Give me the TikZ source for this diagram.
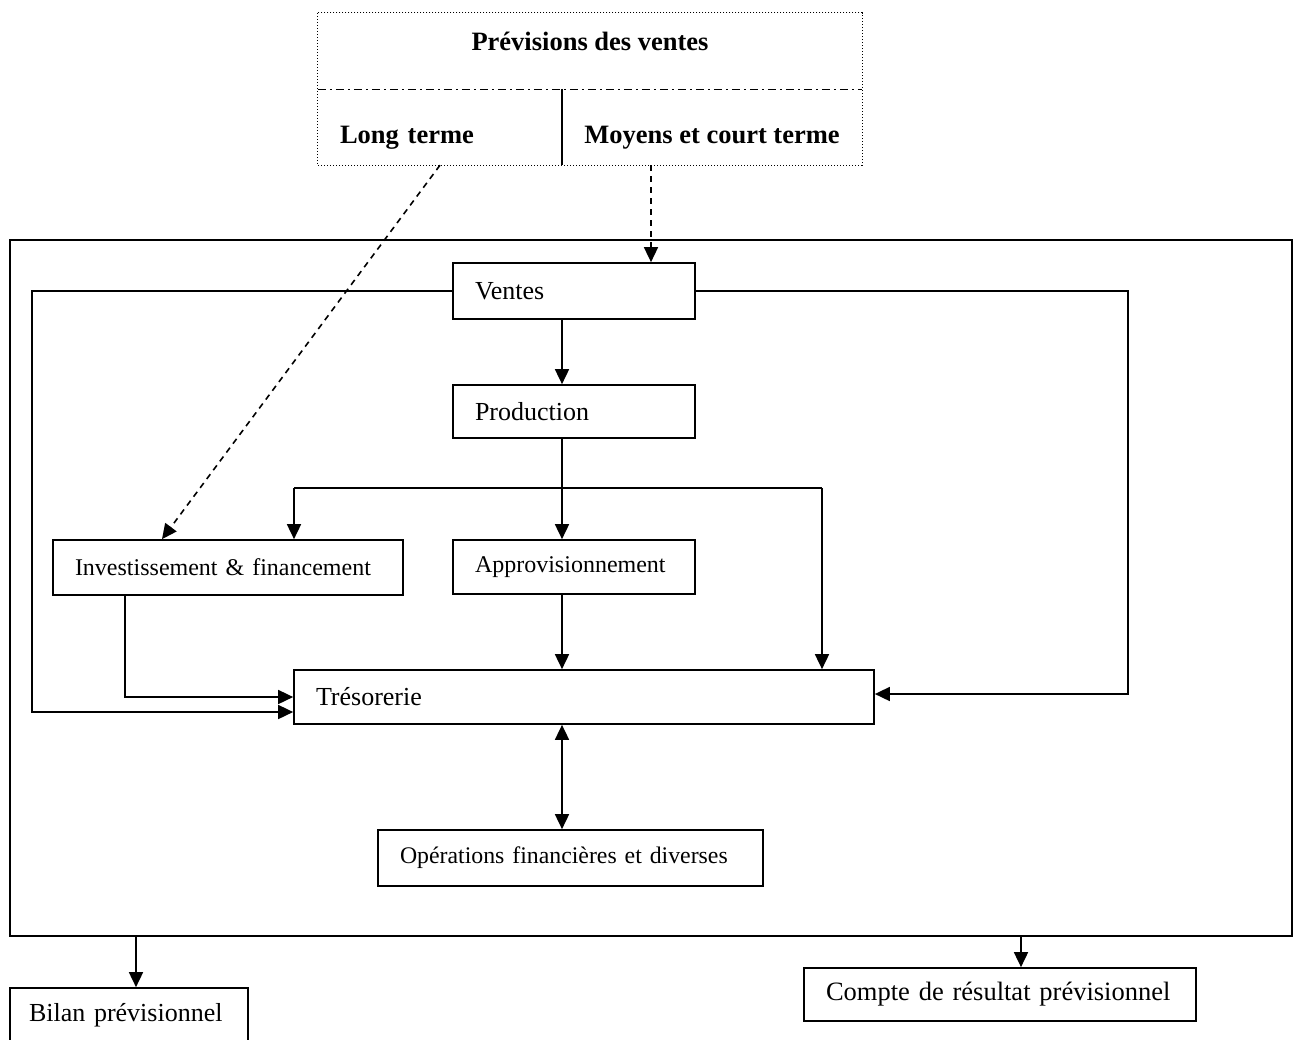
\documentclass[tikz,border=0pt]{standalone}
\usepackage{fontspec}
\setmainfont{Liberation Serif}
\usetikzlibrary{arrows.meta}
\begin{document}
\begin{tikzpicture}[x=1pt,y=-1pt,
  every node/.style={font=\fontsize{24}{28}\selectfont},
  big/.style={font=\fontsize{26}{30}\selectfont},
  stepbox/.style={draw, line width=1.7pt, inner xsep=22pt, inner ysep=0pt, align=left},
  link/.style={line width=1.7pt},
  tip/.tip={Triangle[length=15pt,width=14pt]},
  arr/.style={link, -tip},
  darr/.style={link, tip-tip},
  feedline/.style={line width=1.6pt, dash pattern=on 6pt off 5pt, -tip},
  head/.style={font=\fontsize{26.5}{30}\selectfont\bfseries, inner ysep=0pt}]
\useasboundingbox (0,0) rectangle (1297,1039);
\clip (0,0) rectangle (1297,1039);

% sales forecast header
\node[head, inner xsep=0pt, minimum width=544, text height=37, text depth=39] (prev) at (590,51) {Prévisions des ventes};
\node[head, minimum width=244, text width=200, inner xsep=22pt, align=left, text height=54, text depth=22] (long) at (440,127) {Long terme};
\node[head, inner xsep=0pt, minimum width=300, text height=54, text depth=22] (moy) at (712,127) {Moyens et court terme};
\draw[line width=1pt, dotted] (prev.north west) rectangle (moy.south east);
\draw[line width=1.3pt, dash pattern=on 8pt off 4pt on 2pt off 4pt] (prev.south west) -- (prev.south east);
\draw[line width=1.7pt] (moy.north west) -- (moy.south west);

% outer frame
\node[draw, line width=1.7pt, minimum width=1282, minimum height=696, inner sep=0pt] (frame) at (651,588) {};

% budget blocks
\node[stepbox, big, text width=198, minimum height=56] (ventes) at (574,291) {Ventes};
\node[stepbox, big, text width=198, minimum height=53] (prod) at (574,411.5) {Production};
\node[stepbox, text width=306, minimum height=55] (inv) at (228,567.5) {Investissement \& financement};
\node[stepbox, text width=198, minimum height=54] (appro) at (574,567) {Approvisionnement};
\node[stepbox, big, text width=536, minimum height=54] (tres) at (584,697) {Trésorerie};
\node[stepbox, font=\fontsize{23.8}{27}\selectfont, text width=341, minimum height=56] (ops) at (570.5,858) {Opérations financières et diverses};
\node[stepbox, font=\fontsize{26}{29}\selectfont, inner xsep=19pt, text width=200, minimum height=54] (bilan) at (129,1015) {Bilan prévisionnel};
\node[stepbox, font=\fontsize{26.5}{29}\selectfont, text width=348, minimum height=53] (cpt) at (1000,994.5) {Compte de résultat prévisionnel};

% reference abscissae
\coordinate (spine) at (562,0);
\coordinate (bl) at (294,488);
\coordinate (brr) at (822,488);
\coordinate (lx) at (32,0);
\coordinate (rx) at (1128,0);
\coordinate (bx) at (136,0);
\coordinate (cx) at (1021,0);
\coordinate (mx) at (651,0);
\coordinate (ix) at (162,0);

% forecast feeds
\draw[feedline] (long.south) -- (inv.north -| ix);
\draw[feedline] (moy.south -| mx) -- (ventes.north -| mx);

% main flow
\draw[arr] (ventes.south -| spine) -- (prod.north -| spine);
\draw[arr] (prod.south -| spine) -- (appro.north -| spine);
\draw[link] (bl) -- (brr);
\draw[arr] (bl) -- (inv.north -| bl);
\draw[arr] (brr) -- (tres.north -| brr);
\draw[arr] (appro.south -| spine) -- (tres.north -| spine);
\draw[arr] ([xshift=-103pt]inv.south) |- (tres.west);
\draw[arr] (ventes.west) -| ([yshift=-15pt]tres.west -| lx) -- ([yshift=-15pt]tres.west);
\draw[arr] (ventes.east) -| ([yshift=3pt]tres.east -| rx) -- ([yshift=3pt]tres.east);
\draw[darr] (tres.south -| spine) -- (ops.north -| spine);

% outputs
\draw[arr] (frame.south -| bx) -- (bilan.north -| bx);
\draw[arr] (frame.south -| cx) -- (cpt.north -| cx);
\end{tikzpicture}
\end{document}
